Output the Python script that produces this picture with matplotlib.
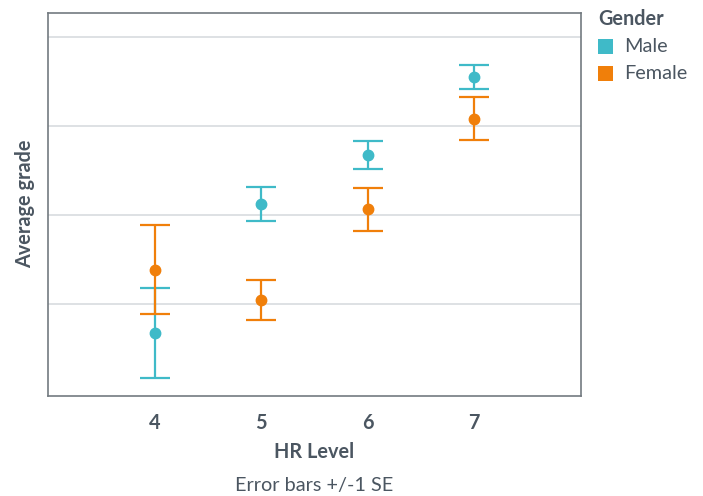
import matplotlib.pyplot as plt
import numpy as np
from matplotlib.patches import Rectangle

plt.rcParams['font.family'] = ['Lato', 'DejaVu Sans']

# Data (y axis has no labels, arbitrary units)
hr_levels = [4, 5, 6, 7]
male_mean = [1.67, 3.12, 3.67, 4.55]
male_se = [0.51, 0.19, 0.16, 0.14]
female_mean = [2.38, 2.04, 3.06, 4.08]
female_se = [0.50, 0.22, 0.24, 0.24]

teal = "#3FBAC8"
orange = "#F07F0A"
text_col = "#4B5661"
fs = 14.3
W, H = 703, 496

fig = plt.figure(figsize=(7.03, 4.96), dpi=100)
ax = fig.add_axes([0.0683, 0.2016, 0.7577, 0.7722])

err_kw = dict(fmt="o", markersize=7.5, elinewidth=1.6, capsize=10.5, capthick=1.6)
ax.errorbar(hr_levels, male_mean, yerr=male_se, color=teal, zorder=3, **err_kw)
ax.errorbar(hr_levels, female_mean, yerr=female_se, color=orange, zorder=3, **err_kw)

ax.set_xlim(3, 8)
ax.set_ylim(0.96, 5.27)
ax.set_xticks(hr_levels)
ax.set_xticklabels([str(v) for v in hr_levels], fontsize=fs, fontweight="bold", color=text_col)
ax.set_yticks([2, 3, 4, 5])
ax.set_yticklabels([])
ax.tick_params(axis="x", length=0, pad=12)
ax.tick_params(axis="y", length=0, pad=0)
ax.grid(axis="y", color="#D8DCDF", linewidth=1.2, zorder=0)
ax.set_axisbelow(True)
for s in ax.spines.values():
    s.set_color("#737A80")
    s.set_linewidth(1.2)

ax.set_xlabel("HR Level", fontsize=fs, fontweight="bold", color=text_col, labelpad=7)
fig.text(0.036, 0.589, "Average grade", fontsize=fs, fontweight="bold", color=text_col,
         rotation=90, ha="center", va="center")
fig.text(0.447, 0.022, "Error bars +/-1 SE", fontsize=fs, color=text_col, ha="center", va="center")

# legend drawn by hand (pixel positions from the reference)
fig.text(598 / W, 1 - 19 / H, "Gender", fontsize=fs, fontweight="bold", color=text_col,
         ha="left", va="center")
for label, col, yc in [("Male", teal, 46.5), ("Female", orange, 73.5)]:
    fig.add_artist(Rectangle((598 / W, 1 - (yc + 7.5) / H), 15 / W, 15 / H,
                             facecolor=col, edgecolor="none", transform=fig.transFigure))
    fig.text(624 / W, 1 - yc / H, label, fontsize=fs, color=text_col, ha="left", va="center")

fig.savefig("out.png", dpi=100)
